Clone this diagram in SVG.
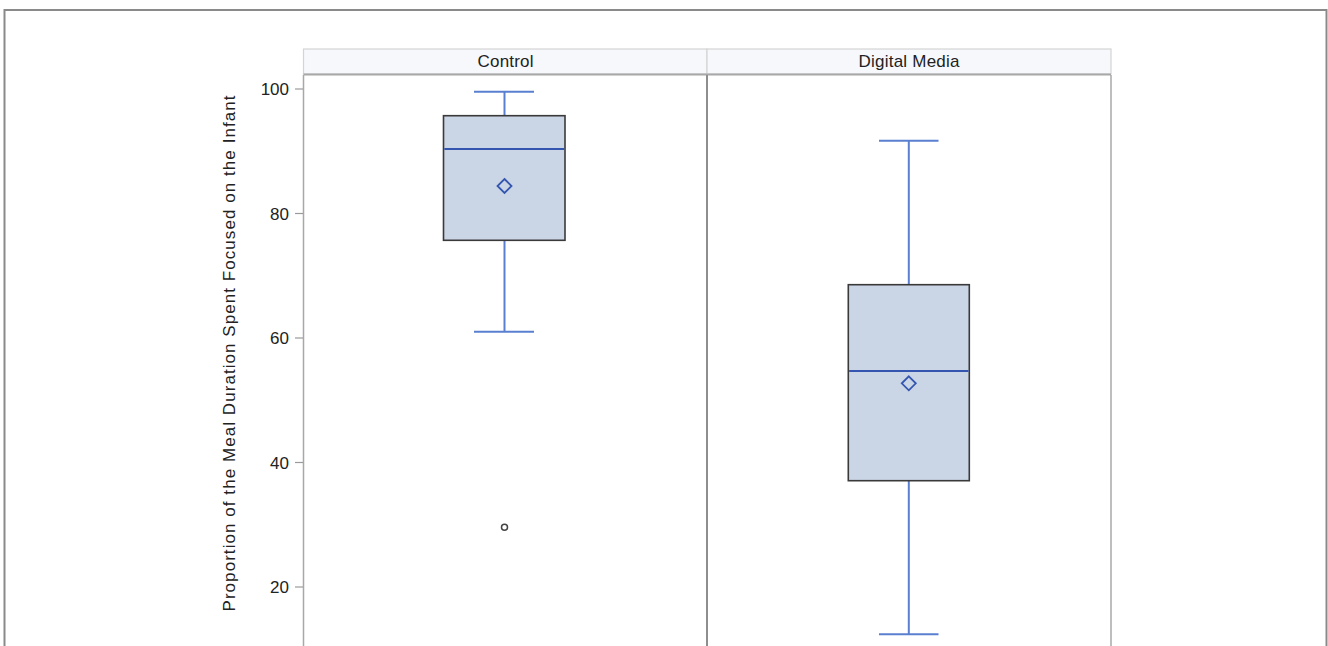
<svg xmlns="http://www.w3.org/2000/svg" width="1328" height="646" viewBox="0 0 1328 646">
  <style>
    text { font-family: "Liberation Sans", Arial, sans-serif; fill: #222; font-size: 17px; }
    .tick { stroke: #9a9a9a; stroke-width: 1.2; }
    .ticklbl { text-anchor: end; }
    .hdr { fill: #f6f8fc; stroke: #d4d4d4; stroke-width: 1.2; }
    .box { fill: #cad5e5; stroke: #3a3a3a; stroke-width: 1.6; }
    .whisker { stroke: #5a7fd0; stroke-width: 2; fill: none; }
    .median { stroke: #3556b0; stroke-width: 2; }
    .mean { fill: none; stroke: #3556b0; stroke-width: 1.8; }
    .outlier { fill: none; stroke: #444; stroke-width: 1.5; }
  </style>

  <!-- outer frame -->
  <rect x="4.5" y="10" width="1322" height="660" fill="#fff" stroke="#8a8a8a" stroke-width="2"/>

  <!-- panel headers -->
  <g id="headers">
    <rect class="hdr" x="303.5" y="49" width="403.5" height="25"/>
    <rect class="hdr" x="707" y="49" width="404" height="25"/>
    <text x="505.5" y="67" text-anchor="middle" textLength="56" lengthAdjust="spacing">Control</text>
    <text x="909" y="67" text-anchor="middle" textLength="101" lengthAdjust="spacing">Digital Media</text>
  </g>

  <!-- panel frames -->
  <g id="panels" fill="none">
    <line x1="303.5" y1="74.5" x2="1111" y2="74.5" stroke="#a8a8a8" stroke-width="2"/>
    <line x1="303.5" y1="75" x2="303.5" y2="650" stroke="#a8a8a8" stroke-width="1.5"/>
    <line x1="707" y1="75" x2="707" y2="650" stroke="#8e8e8e" stroke-width="2"/>
    <line x1="1111" y1="75" x2="1111" y2="650" stroke="#a8a8a8" stroke-width="1.5"/>
  </g>

  <!-- y axis -->
  <g id="yaxis">
    <line class="tick" x1="295" y1="89" x2="303" y2="89"/>
    <line class="tick" x1="295" y1="213.5" x2="303" y2="213.5"/>
    <line class="tick" x1="295" y1="338" x2="303" y2="338"/>
    <line class="tick" x1="295" y1="462.5" x2="303" y2="462.5"/>
    <line class="tick" x1="295" y1="587" x2="303" y2="587"/>
    <text class="ticklbl" x="289" y="95">100</text>
    <text class="ticklbl" x="289" y="219.5">80</text>
    <text class="ticklbl" x="289" y="344">60</text>
    <text class="ticklbl" x="289" y="468.5">40</text>
    <text class="ticklbl" x="289" y="593">20</text>
    <text x="235" y="353.5" text-anchor="middle" textLength="516" lengthAdjust="spacing" transform="rotate(-90 235 353.5)">Proportion of the Meal Duration Spent Focused on the Infant</text>
  </g>

  <!-- Control group -->
  <g id="control">
    <line class="whisker" x1="504.5" y1="91.7" x2="504.5" y2="115.7"/>
    <line class="whisker" x1="474" y1="91.7" x2="534" y2="91.7"/>
    <line class="whisker" x1="504.5" y1="240.3" x2="504.5" y2="331.7"/>
    <line class="whisker" x1="474" y1="331.7" x2="534" y2="331.7"/>
    <rect class="box" x="443.5" y="115.7" width="121.5" height="124.6"/>
    <line class="median" x1="444.3" y1="149" x2="564.2" y2="149"/>
    <path class="mean" d="M504.5 179 L511.5 186 L504.5 193 L497.5 186 Z"/>
    <circle class="outlier" cx="504.5" cy="527.3" r="3"/>
  </g>

  <!-- Digital Media group -->
  <g id="digital-media">
    <line class="whisker" x1="908.8" y1="140.7" x2="908.8" y2="284.7"/>
    <line class="whisker" x1="879" y1="140.7" x2="938.5" y2="140.7"/>
    <line class="whisker" x1="908.8" y1="480.7" x2="908.8" y2="634.3"/>
    <line class="whisker" x1="879" y1="634.3" x2="938.5" y2="634.3"/>
    <rect class="box" x="848.3" y="284.7" width="121" height="196"/>
    <line class="median" x1="849.1" y1="371" x2="968.5" y2="371"/>
    <path class="mean" d="M908.8 376.3 L915.8 383.3 L908.8 390.3 L901.8 383.3 Z"/>
  </g>
</svg>
